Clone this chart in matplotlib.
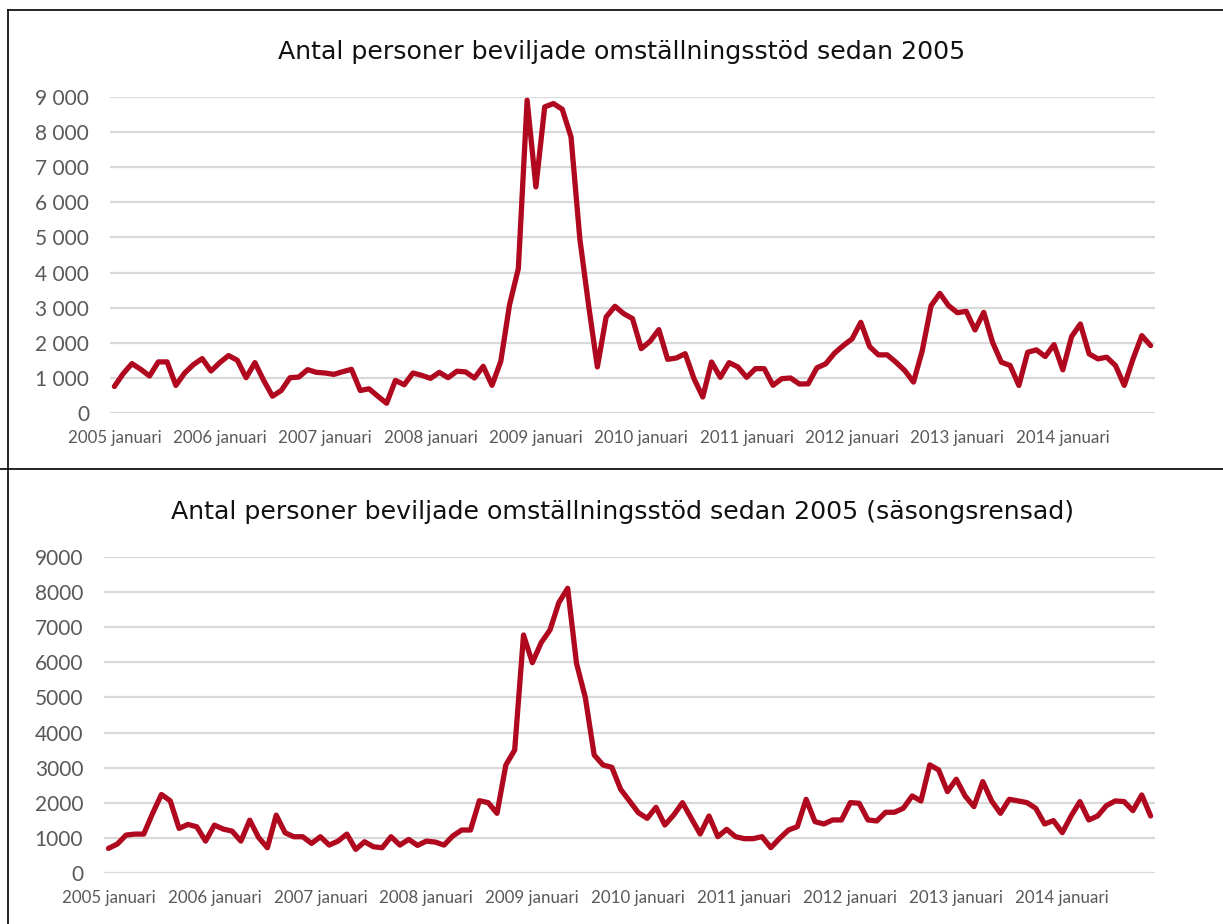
import matplotlib
matplotlib.use("Agg")
import matplotlib.pyplot as plt
from matplotlib.lines import Line2D
from matplotlib.ticker import FuncFormatter
import pandas as pd

# monthly values, 2005 januari .. 2014 november
months = pd.date_range("2005-01-01", periods=119, freq="MS")

beviljade = [
    756, 1120, 1407, 1244, 1053, 1455, 1455, 785, 1139, 1378, 1550, 1196,
    1435, 1636, 1502, 1005, 1435, 928, 478, 641, 1005, 1024, 1234, 1158,
    1139, 1100, 1177, 1244, 641, 689, 478, 278, 928, 804, 1139, 1072,
    986, 1158, 1005, 1190, 1170, 997, 1330, 788, 1472, 3086, 4112, 8908,
    6439, 8718, 8813, 8651, 7863, 4967, 3067, 1311, 2735, 3039, 2830, 2688,
    1833, 2042, 2374, 1529, 1567, 1690, 978, 456, 1453, 1016, 1434, 1311,
    1016, 1263, 1263, 788, 978, 997, 826, 830, 1287, 1400, 1703, 1920,
    2110, 2583, 1892, 1656, 1656, 1447, 1211, 880, 1779, 3056, 3406, 3056,
    2857, 2895, 2365, 2867, 2015, 1447, 1353, 785, 1731, 1798, 1608, 1949,
    1230, 2176, 2535, 1684, 1542, 1589, 1353, 785, 1542, 2204, 1920,
]

sasongsrensad = [
    693, 817, 1073, 1102, 1102, 1690, 2232, 2051, 1263, 1377, 1311, 902,
    1358, 1244, 1187, 902, 1500, 1007, 712, 1643, 1140, 1026, 1026, 836,
    1026, 788, 902, 1102, 665, 883, 741, 712, 1026, 788, 950, 779,
    902, 874, 788, 1050, 1218, 1218, 2055, 1998, 1694, 3073, 3501, 6784,
    5994, 6565, 6927, 7707, 8116, 5975, 4995, 3359, 3073, 3007, 2379, 2046,
    1713, 1551, 1865, 1361, 1646, 1998, 1551, 1104, 1618, 1028, 1237, 1028,
    971, 971, 1028, 714, 980, 1218, 1313, 2094, 1457, 1390, 1505, 1505,
    2000, 1981, 1505, 1476, 1724, 1724, 1838, 2190, 2048, 3076, 2933, 2314,
    2667, 2190, 1886, 2600, 2048, 1695, 2095, 2048, 2000, 1838, 1390, 1486,
    1143, 1619, 2029, 1505, 1619, 1914, 2048, 2029, 1771, 2219, 1619,
]

titles = [
    "Antal personer beviljade omställningsstöd sedan 2005",
    "Antal personer beviljade omställningsstöd sedan 2005 (säsongsrensad)",
]

LINE = "#b0081e"
GRID = "#d9d9d9"
TXT = "#595959"

W, H = 1223, 924
fig = plt.figure(figsize=(W / 100, H / 100), dpi=100)


def px(x0, y0, x1, y1):
    # pixel box -> figure fraction [left, bottom, width, height]
    return [x0 / W, 1 - y1 / H, (x1 - x0) / W, (y1 - y0) / H]


ax1 = fig.add_axes(px(110, 97, 1155, 413))
ax2 = fig.add_axes(px(104, 557.3, 1155, 872.7))

x = list(range(len(months)))
jan = [i for i, m in enumerate(months) if m.month == 1]
jan_labels = [f"{months[i].year} januari" for i in jan]

fmt_space = FuncFormatter(lambda v, p: f"{int(v):,}".replace(",", " "))
fmt_plain = FuncFormatter(lambda v, p: f"{int(v)}")

for ax, vals, fmt in [(ax1, beviljade, fmt_space), (ax2, sasongsrensad, fmt_plain)]:
    ax.plot(x, vals, color=LINE, linewidth=3.8, solid_joinstyle="round",
            solid_capstyle="round", zorder=3)
    ax.set_xlim(-0.5, len(months) - 0.5)
    ax.set_ylim(0, 9000)
    ax.set_yticks(range(0, 9001, 1000))
    ax.yaxis.set_major_formatter(fmt)
    ax.set_xticks(jan)
    ax.set_xticklabels(jan_labels)
    ax.grid(axis="y", color=GRID, linewidth=1.6)
    ax.set_axisbelow(True)
    for s in ax.spines.values():
        s.set_visible(False)
    ax.tick_params(axis="y", length=0, pad=15, labelsize=15, labelcolor=TXT)
    ax.tick_params(axis="x", length=0, pad=12.5, labelsize=12.2, labelcolor=TXT)
    for lab in ax.get_xticklabels() + ax.get_yticklabels():
        lab.set_fontfamily("Lato")
    ax.patch.set_alpha(0)

fig.text(622 / W, 1 - 58.7 / H, titles[0], ha="center", va="baseline",
         fontsize=18.2, fontfamily="DejaVu Sans", color="#111111")
fig.text(622.5 / W, 1 - 518.7 / H, titles[1], ha="center", va="baseline",
         fontsize=18.2, fontfamily="DejaVu Sans", color="#111111")

# panel borders
for xs, ys in [([8, 8], [10, H]), ([8, W], [10, 10]), ([0, W], [469, 469])]:
    fig.add_artist(Line2D([v / W for v in xs], [1 - v / H for v in ys],
                          color="black", linewidth=1.2))

fig.savefig("out.png", dpi=100)
